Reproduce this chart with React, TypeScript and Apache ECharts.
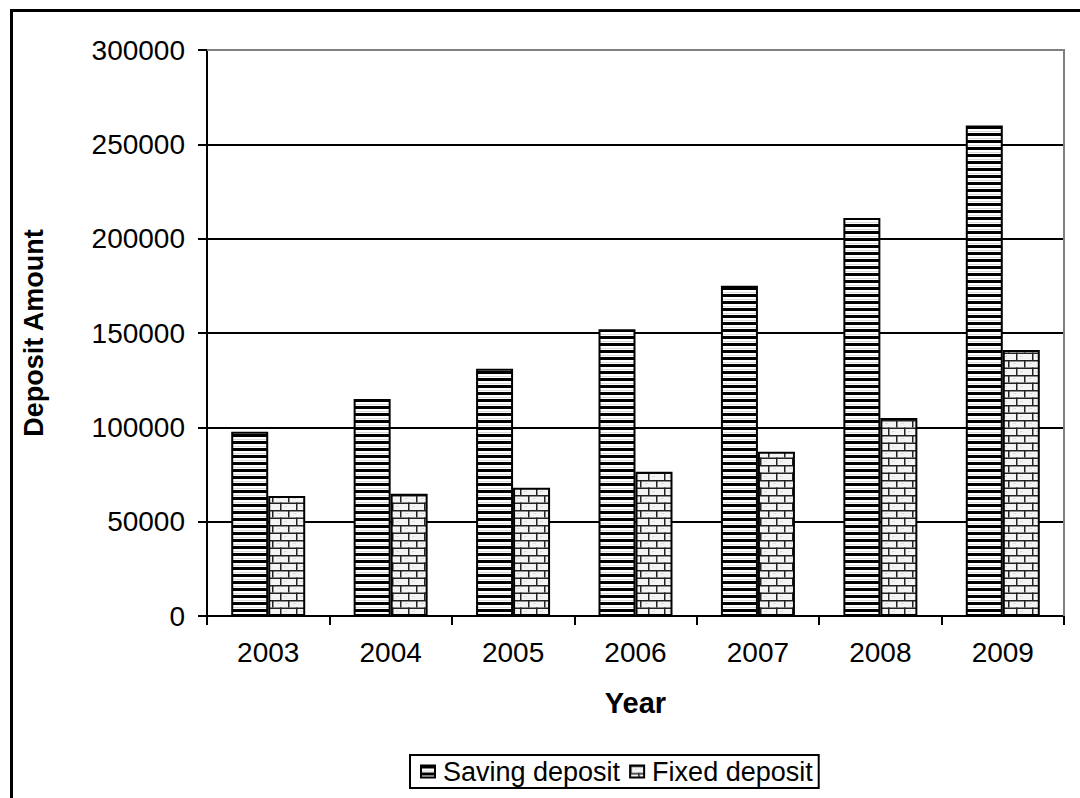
import React, { useEffect, useRef } from "react";
import * as echarts from "echarts";

const years = ["2003", "2004", "2005", "2006", "2007", "2008", "2009"];
const savingDeposit = [97700, 115000, 131000, 152000, 175000, 211000, 260000];
const fixedDeposit = [63600, 64800, 68000, 76500, 87000, 105000, 141000];
const yTicks = { min: 0, max: 300000, interval: 50000 };

const FONT = "Liberation Sans, Arial, sans-serif";

// Horizontal black/white stripes for the saving deposit bars
function stripeCanvas(): HTMLCanvasElement {
  const c = document.createElement("canvas");
  c.width = 8;
  c.height = 7;
  const ctx = c.getContext("2d")!;
  ctx.fillStyle = "#ffffff";
  ctx.fillRect(0, 0, 8, 7);
  ctx.fillStyle = "#000000";
  ctx.fillRect(0, 0, 8, 3);
  ctx.fillStyle = "#d8d8d8";
  ctx.fillRect(0, 5, 8, 1);
  return c;
}

// Light brick pattern for the fixed deposit bars
function brickCanvas(): HTMLCanvasElement {
  const c = document.createElement("canvas");
  c.width = 16;
  c.height = 15;
  const ctx = c.getContext("2d")!;
  ctx.fillStyle = "#f4f4f4";
  ctx.fillRect(0, 0, 16, 15);
  ctx.fillStyle = "#dddddd";
  ctx.fillRect(5, 3, 3, 1);
  ctx.fillRect(12, 11, 3, 1);
  ctx.fillStyle = "#222222";
  ctx.fillRect(0, 0, 16, 1.5);
  ctx.fillRect(0, 7.5, 16, 1.5);
  ctx.fillRect(0, 0, 1.5, 7.5);
  ctx.fillRect(8, 7.5, 1.5, 7.5);
  return c;
}

export default function App() {
  const ref = useRef<HTMLDivElement>(null);

  useEffect(() => {
    if (!ref.current) return;
    const chart = echarts.init(ref.current, null, { renderer: "svg" });
    const stripes = { image: stripeCanvas(), repeat: "repeat", imageWidth: 8, imageHeight: 7 };
    const bricks = { image: brickCanvas(), repeat: "repeat", imageWidth: 16, imageHeight: 15 };

    chart.setOption({
      animation: false,
      backgroundColor: "#ffffff",
      textStyle: { fontFamily: FONT, color: "#000" },
      grid: { left: 207, top: 50, right: 16, bottom: 182, containLabel: false },
      legend: {
        left: 410,
        top: 755,
        orient: "horizontal",
        backgroundColor: "#fff",
        borderColor: "#000",
        borderWidth: 2,
        borderRadius: 0,
        padding: [3, 6, 3, 10],
        itemWidth: 14,
        itemHeight: 12,
        itemGap: 9,
        icon: "rect",
        textStyle: { fontSize: 27, fontFamily: FONT, color: "#000", padding: [0, 0, 0, 3] },
        data: ["Saving deposit", "Fixed deposit"],
      },
      xAxis: {
        type: "category",
        data: years,
        name: "Year",
        nameLocation: "middle",
        nameGap: 72,
        nameTextStyle: { fontSize: 29, fontWeight: "bold", fontFamily: FONT, color: "#000" },
        axisLine: { lineStyle: { color: "#000", width: 2 } },
        axisTick: { show: true, length: 9, lineStyle: { color: "#000", width: 2 } },
        axisLabel: { fontSize: 28, margin: 22, color: "#000", fontFamily: FONT },
      },
      yAxis: {
        type: "value",
        min: yTicks.min,
        max: yTicks.max,
        interval: yTicks.interval,
        name: "Deposit Amount",
        nameLocation: "middle",
        nameGap: 160,
        nameTextStyle: { fontSize: 27, fontWeight: "bold", fontFamily: FONT, color: "#000" },
        axisLine: { show: true, lineStyle: { color: "#000", width: 2 } },
        axisTick: { show: true, length: 9, lineStyle: { color: "#000", width: 2 } },
        axisLabel: {
          fontSize: 28,
          margin: 22,
          color: "#000",
          fontFamily: FONT,
          formatter: (v: number) => String(v),
        },
        splitLine: { show: true, lineStyle: { color: "#000", width: 2 } },
      },
      series: [
        {
          name: "Saving deposit",
          type: "bar",
          data: savingDeposit,
          barWidth: 37,
          barGap: "0%",
          itemStyle: { color: stripes, borderColor: "#000", borderWidth: 2 },
        },
        {
          name: "Fixed deposit",
          type: "bar",
          data: fixedDeposit,
          barWidth: 37,
          barGap: "0%",
          itemStyle: { color: bricks, borderColor: "#000", borderWidth: 2 },
        },
      ],
      graphic: [
        {
          type: "rect",
          left: 9,
          top: 8,
          shape: { width: 1100, height: 830 },
          style: { fill: "none", stroke: "#000", lineWidth: 3 },
          z: 100,
          silent: true,
        },
        {
          type: "polyline",
          shape: { points: [[207, 50], [1064, 50], [1064, 616]] },
          style: { fill: "none", stroke: "#808080", lineWidth: 2 },
          z: 100,
          silent: true,
        },
      ],
    });
    return () => chart.dispose();
  }, []);

  return (
    <div
      ref={ref}
      style={{ position: "fixed", left: 0, top: 0, width: 1080, height: 798, background: "#fff" }}
    />
  );
}
